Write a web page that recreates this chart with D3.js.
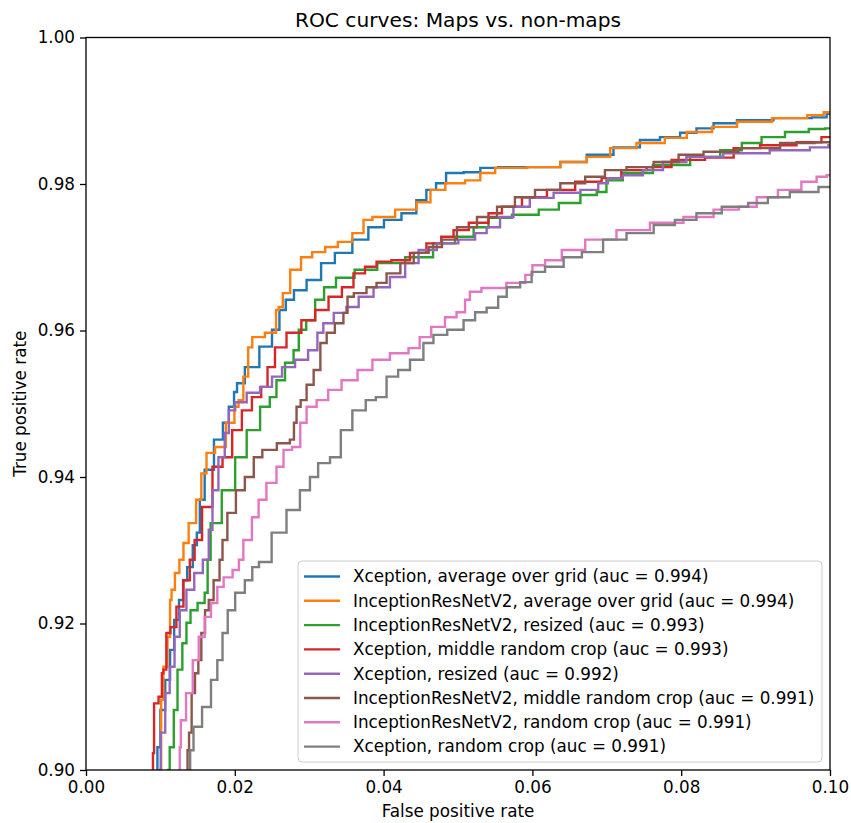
<!DOCTYPE html>
<html>
<head>
<meta charset="utf-8">
<script src="https://cdn.jsdelivr.net/npm/d3@7"></script>
<style>
  body { margin: 0; background: #fff; }
  svg { font-family: "DejaVu Sans", sans-serif; }
</style>
</head>
<body>
<svg id="chart" width="851" height="823"></svg>
<script>
// ROC curve points, [false positive rate, true positive rate]
const xceptionGrid = [
  [0.0095,0.9000],[0.0097,0.9031],[0.0103,0.9082],[0.0110,0.9123],[0.0116,0.9164],[0.0121,0.9205],
  [0.0129,0.9232],[0.0132,0.9259],[0.0140,0.9277],[0.0147,0.9307],[0.0151,0.9324],[0.0155,0.9369],
  [0.0164,0.9410],[0.0180,0.9451],[0.0188,0.9474],[0.0196,0.9496],[0.0202,0.9516],[0.0204,0.9528],
  [0.0223,0.9550],[0.0243,0.9578],[0.0257,0.9601],[0.0263,0.9628],[0.0274,0.9642],[0.0285,0.9655],
  [0.0308,0.9669],[0.0324,0.9692],[0.0345,0.9706],[0.0371,0.9724],[0.0388,0.9741],[0.0413,0.9751],
  [0.0435,0.9760],[0.0453,0.9778],[0.0462,0.9792],[0.0479,0.9801],[0.0489,0.9815],[0.0526,0.9816],
  [0.0534,0.9822],[0.0574,0.9823],[0.0620,0.9823],[0.0655,0.9830],[0.0691,0.9840],[0.0727,0.9850],
  [0.0762,0.9860],[0.0781,0.9864],[0.0816,0.9870],[0.0825,0.9876],[0.0862,0.9883],[0.0888,0.9887],
  [0.0960,0.9890],[0.0991,0.9891],[0.1000,0.9896]
];
const inceptionGrid = [
  [0.0100,0.9000],[0.0102,0.9096],[0.0106,0.9141],[0.0113,0.9182],[0.0113,0.9232],[0.0117,0.9246],
  [0.0122,0.9269],[0.0129,0.9287],[0.0133,0.9310],[0.0143,0.9337],[0.0153,0.9369],[0.0157,0.9405],
  [0.0167,0.9433],[0.0180,0.9441],[0.0196,0.9474],[0.0203,0.9496],[0.0207,0.9505],[0.0216,0.9537],
  [0.0220,0.9577],[0.0227,0.9591],[0.0254,0.9597],[0.0257,0.9628],[0.0261,0.9632],[0.0268,0.9651],
  [0.0281,0.9683],[0.0297,0.9700],[0.0311,0.9707],[0.0332,0.9714],[0.0345,0.9721],[0.0371,0.9733],
  [0.0375,0.9751],[0.0395,0.9755],[0.0436,0.9765],[0.0453,0.9775],[0.0473,0.9792],[0.0493,0.9801],
  [0.0526,0.9805],[0.0534,0.9815],[0.0566,0.9822],[0.0620,0.9823],[0.0655,0.9830],[0.0691,0.9837],
  [0.0718,0.9849],[0.0762,0.9856],[0.0794,0.9863],[0.0821,0.9871],[0.0862,0.9878],[0.0888,0.9885],
  [0.0956,0.9890],[0.0983,0.9894],[0.1000,0.9898]
];
const inceptionResized = [
  [0.0109,0.9000],[0.0116,0.9031],[0.0120,0.9082],[0.0126,0.9137],[0.0133,0.9173],[0.0137,0.9201],
  [0.0144,0.9218],[0.0156,0.9228],[0.0163,0.9242],[0.0164,0.9287],[0.0171,0.9337],[0.0194,0.9382],
  [0.0207,0.9427],[0.0225,0.9464],[0.0243,0.9496],[0.0251,0.9509],[0.0261,0.9532],[0.0274,0.9556],
  [0.0284,0.9573],[0.0288,0.9601],[0.0304,0.9614],[0.0312,0.9642],[0.0328,0.9659],[0.0344,0.9672],
  [0.0378,0.9683],[0.0405,0.9692],[0.0453,0.9700],[0.0480,0.9719],[0.0512,0.9728],[0.0530,0.9741],
  [0.0552,0.9754],[0.0593,0.9758],[0.0624,0.9765],[0.0647,0.9774],[0.0682,0.9785],[0.0691,0.9789],
  [0.0708,0.9805],[0.0735,0.9815],[0.0789,0.9826],[0.0835,0.9837],[0.0870,0.9846],[0.0893,0.9856],
  [0.0923,0.9864],[0.0956,0.9871],[0.0987,0.9875],[0.1000,0.9876]
];
const xceptionMiddle = [
  [0.0090,0.9000],[0.0090,0.9023],[0.0093,0.9091],[0.0102,0.9100],[0.0102,0.9132],[0.0106,0.9137],
  [0.0110,0.9187],[0.0117,0.9195],[0.0126,0.9223],[0.0136,0.9259],[0.0143,0.9287],[0.0149,0.9314],
  [0.0163,0.9359],[0.0177,0.9414],[0.0190,0.9427],[0.0203,0.9464],[0.0216,0.9491],[0.0230,0.9509],
  [0.0241,0.9523],[0.0247,0.9550],[0.0261,0.9577],[0.0278,0.9597],[0.0301,0.9614],[0.0315,0.9628],
  [0.0337,0.9646],[0.0351,0.9659],[0.0368,0.9678],[0.0382,0.9687],[0.0399,0.9694],[0.0422,0.9696],
  [0.0449,0.9706],[0.0466,0.9719],[0.0489,0.9728],[0.0499,0.9737],[0.0530,0.9747],[0.0552,0.9760],
  [0.0566,0.9769],[0.0606,0.9782],[0.0633,0.9792],[0.0682,0.9803],[0.0704,0.9808],[0.0735,0.9819],
  [0.0772,0.9823],[0.0802,0.9833],[0.0862,0.9836],[0.0879,0.9849],[0.0933,0.9853],[0.0977,0.9857],
  [0.1000,0.9864]
];
const xceptionResized = [
  [0.0097,0.9000],[0.0104,0.9051],[0.0109,0.9105],[0.0116,0.9141],[0.0122,0.9182],[0.0130,0.9218],
  [0.0140,0.9246],[0.0151,0.9269],[0.0163,0.9287],[0.0167,0.9328],[0.0173,0.9382],[0.0183,0.9427],
  [0.0190,0.9460],[0.0194,0.9491],[0.0207,0.9502],[0.0225,0.9515],[0.0243,0.9523],[0.0257,0.9537],
  [0.0270,0.9550],[0.0292,0.9560],[0.0305,0.9573],[0.0317,0.9597],[0.0321,0.9610],[0.0345,0.9624],
  [0.0355,0.9632],[0.0378,0.9646],[0.0395,0.9659],[0.0422,0.9673],[0.0436,0.9692],[0.0458,0.9710],
  [0.0485,0.9719],[0.0516,0.9724],[0.0530,0.9733],[0.0547,0.9741],[0.0566,0.9755],[0.0583,0.9769],
  [0.0610,0.9781],[0.0647,0.9788],[0.0682,0.9792],[0.0695,0.9801],[0.0708,0.9808],[0.0735,0.9812],
  [0.0762,0.9819],[0.0789,0.9830],[0.0825,0.9837],[0.0888,0.9842],[0.0950,0.9846],[0.0996,0.9850],
  [0.1000,0.9853]
];
const inceptionMiddle = [
  [0.0136,0.9000],[0.0137,0.9027],[0.0140,0.9051],[0.0144,0.9105],[0.0149,0.9132],[0.0153,0.9150],
  [0.0157,0.9187],[0.0163,0.9218],[0.0167,0.9232],[0.0176,0.9259],[0.0183,0.9287],[0.0184,0.9314],
  [0.0196,0.9351],[0.0207,0.9382],[0.0220,0.9400],[0.0231,0.9427],[0.0243,0.9437],[0.0270,0.9446],
  [0.0278,0.9451],[0.0281,0.9474],[0.0285,0.9496],[0.0292,0.9505],[0.0301,0.9526],[0.0311,0.9546],
  [0.0319,0.9583],[0.0328,0.9597],[0.0341,0.9610],[0.0351,0.9624],[0.0352,0.9646],[0.0368,0.9651],
  [0.0386,0.9659],[0.0395,0.9665],[0.0413,0.9678],[0.0432,0.9692],[0.0449,0.9706],[0.0472,0.9714],
  [0.0485,0.9724],[0.0512,0.9741],[0.0539,0.9755],[0.0566,0.9769],[0.0587,0.9782],[0.0620,0.9792],
  [0.0655,0.9801],[0.0687,0.9810],[0.0708,0.9819],[0.0745,0.9823],[0.0781,0.9830],[0.0812,0.9840],
  [0.0848,0.9844],[0.0906,0.9849],[0.0960,0.9856],[0.1000,0.9857]
];
const inceptionRandom = [
  [0.0126,0.9000],[0.0126,0.9031],[0.0129,0.9068],[0.0140,0.9105],[0.0147,0.9150],[0.0156,0.9182],
  [0.0163,0.9209],[0.0173,0.9228],[0.0180,0.9250],[0.0190,0.9263],[0.0204,0.9273],[0.0207,0.9287],
  [0.0216,0.9314],[0.0230,0.9345],[0.0234,0.9369],[0.0251,0.9392],[0.0261,0.9414],[0.0270,0.9437],
  [0.0284,0.9441],[0.0292,0.9474],[0.0301,0.9496],[0.0319,0.9505],[0.0332,0.9519],[0.0355,0.9532],
  [0.0375,0.9546],[0.0395,0.9560],[0.0422,0.9569],[0.0445,0.9576],[0.0452,0.9591],[0.0476,0.9605],
  [0.0489,0.9618],[0.0507,0.9625],[0.0512,0.9642],[0.0520,0.9653],[0.0543,0.9658],[0.0587,0.9665],
  [0.0594,0.9676],[0.0606,0.9689],[0.0628,0.9696],[0.0651,0.9710],[0.0691,0.9724],[0.0735,0.9737],
  [0.0781,0.9747],[0.0825,0.9755],[0.0862,0.9765],[0.0893,0.9769],[0.0910,0.9782],[0.0950,0.9792],
  [0.0973,0.9803],[0.0991,0.9810],[0.1000,0.9812]
];
const xceptionRandom = [
  [0.0140,0.9000],[0.0140,0.9027],[0.0149,0.9059],[0.0163,0.9086],[0.0173,0.9123],[0.0180,0.9150],
  [0.0187,0.9187],[0.0194,0.9218],[0.0207,0.9242],[0.0220,0.9259],[0.0227,0.9277],[0.0238,0.9284],
  [0.0261,0.9324],[0.0278,0.9355],[0.0297,0.9382],[0.0305,0.9400],[0.0319,0.9419],[0.0337,0.9427],
  [0.0348,0.9464],[0.0368,0.9491],[0.0384,0.9505],[0.0395,0.9509],[0.0413,0.9537],[0.0426,0.9546],
  [0.0445,0.9560],[0.0462,0.9583],[0.0472,0.9594],[0.0499,0.9601],[0.0516,0.9614],[0.0530,0.9625],
  [0.0547,0.9631],[0.0561,0.9646],[0.0570,0.9659],[0.0597,0.9666],[0.0601,0.9680],[0.0633,0.9687],
  [0.0651,0.9700],[0.0682,0.9707],[0.0708,0.9724],[0.0745,0.9733],[0.0781,0.9744],[0.0802,0.9751],
  [0.0839,0.9760],[0.0870,0.9769],[0.0910,0.9774],[0.0923,0.9782],[0.0969,0.9789],[0.1000,0.9796]
];

const seriesData = [xceptionGrid, inceptionGrid, inceptionResized, xceptionMiddle,
  xceptionResized, inceptionMiddle, inceptionRandom, xceptionRandom];
const seriesLabels = [
  'Xception, average over grid (auc = 0.994)',
  'InceptionResNetV2, average over grid (auc = 0.994)',
  'InceptionResNetV2, resized (auc = 0.993)',
  'Xception, middle random crop (auc = 0.993)',
  'Xception, resized (auc = 0.992)',
  'InceptionResNetV2, middle random crop (auc = 0.991)',
  'InceptionResNetV2, random crop (auc = 0.991)',
  'Xception, random crop (auc = 0.991)'
];
const seriesColors = ['#1f77b4', '#ff7f0e', '#2ca02c', '#d62728', '#9467bd', '#8c564b', '#e377c2', '#7f7f7f'];
const xTicks = [0, 0.02, 0.04, 0.06, 0.08, 0.10];
const yTicks = [0.90, 0.92, 0.94, 0.96, 0.98, 1.00];

// plot area
const margin = {left: 86, top: 37.5, right: 21, bottom: 53};
const width = 851 - margin.left - margin.right;
const height = 823 - margin.top - margin.bottom;
const fontSize = 16.8;

const svg = d3.select('#chart');
const g = svg.append('g')
  .attr('transform', `translate(${margin.left},${margin.top})`);

const x = d3.scaleLinear().domain([0, 0.1]).range([0, width]);
const y = d3.scaleLinear().domain([0.9, 1.0]).range([height, 0]);

g.append('clipPath').attr('id', 'plot-clip')
  .append('rect').attr('width', width).attr('height', height);

// curves
const line = d3.line()
  .x(d => x(d[0]))
  .y(d => y(d[1]))
  .curve(d3.curveStep);

g.append('g').attr('clip-path', 'url(#plot-clip)')
  .selectAll('path')
  .data(seriesData)
  .enter().append('path')
  .attr('d', line)
  .attr('fill', 'none')
  .attr('stroke', (d, i) => seriesColors[i])
  .attr('stroke-width', 2.4);

// axes
const xAxis = g.append('g')
  .attr('transform', `translate(0,${height})`)
  .call(d3.axisBottom(x).tickValues(xTicks).tickFormat(d3.format('.2f')).tickSize(6).tickPadding(5));
const yAxis = g.append('g')
  .call(d3.axisLeft(y).tickValues(yTicks).tickFormat(d3.format('.2f')).tickSize(6).tickPadding(5));
[xAxis, yAxis].forEach(a => {
  a.select('.domain').remove();
  a.selectAll('text').attr('font-size', fontSize).attr('fill', '#000').attr('font-family', 'DejaVu Sans');
  a.selectAll('line').attr('stroke', '#000').attr('stroke-width', 1.3);
});

// frame
g.append('rect')
  .attr('width', width).attr('height', height)
  .attr('fill', 'none').attr('stroke', '#000').attr('stroke-width', 1.3);

// title and axis labels
svg.append('text')
  .attr('x', margin.left + width / 2).attr('y', 27)
  .attr('text-anchor', 'middle').attr('font-size', 20.2)
  .text('ROC curves: Maps vs. non-maps');
svg.append('text')
  .attr('x', margin.left + width / 2).attr('y', 817)
  .attr('text-anchor', 'middle').attr('font-size', fontSize)
  .text('False positive rate');
svg.append('text')
  .attr('transform', `translate(26,${margin.top + height / 2}) rotate(-90)`)
  .attr('text-anchor', 'middle').attr('font-size', fontSize)
  .text('True positive rate');

// legend
const legend = g.append('g').attr('transform', `translate(${298 - margin.left},${561 - margin.top})`);
legend.append('rect')
  .attr('width', 524).attr('height', 201).attr('rx', 4)
  .attr('fill', '#fff').attr('fill-opacity', 0.8)
  .attr('stroke', '#ccc').attr('stroke-width', 1);
const rows = legend.selectAll('.key-item')
  .data(seriesLabels)
  .enter().append('g')
  .attr('class', 'key-item')
  .attr('transform', (d, i) => `translate(0,${15.5 + i * 24.3})`);
rows.append('line')
  .attr('x1', 6).attr('x2', 42)
  .attr('stroke', (d, i) => seriesColors[i]).attr('stroke-width', 2.4);
rows.append('text')
  .attr('x', 55).attr('dy', '0.35em')
  .attr('font-size', fontSize)
  .text(d => d);
</script>
</body>
</html>
